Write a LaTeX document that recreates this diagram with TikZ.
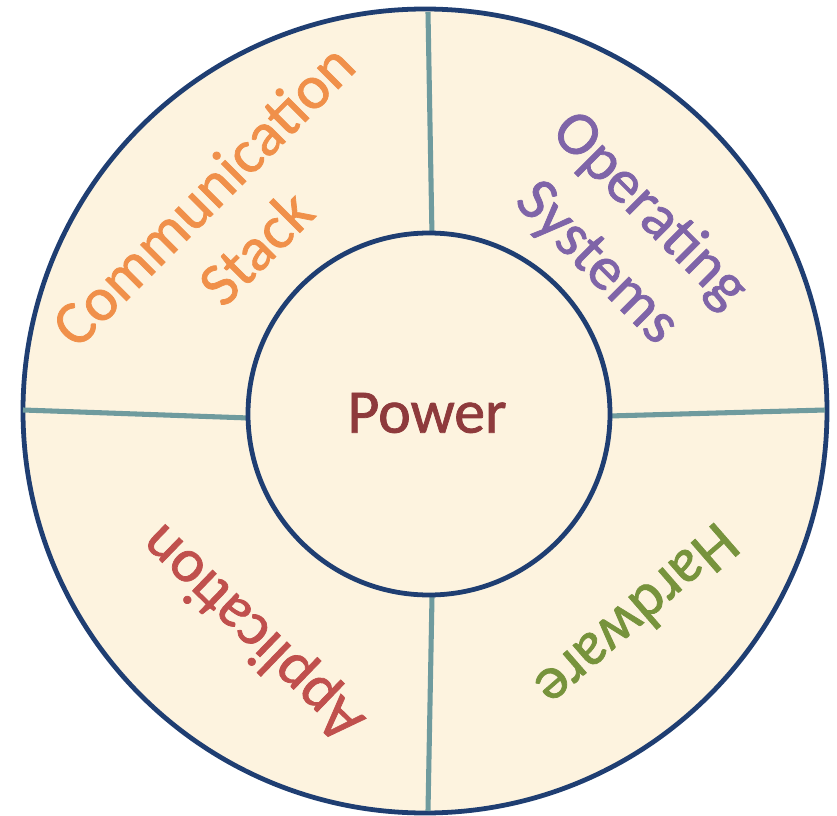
\documentclass[tikz,border=0pt]{standalone}
\usepackage{fontspec}
\setmainfont{Carlito}
\newfontfamily\ringfont[FakeBold=1.2]{Carlito}
\usepackage{xcolor}
\definecolor{ringfill}{HTML}{FDF3DF}
\definecolor{ringline}{HTML}{1F3E72}
\definecolor{splitline}{HTML}{6F9B9E}
\definecolor{commcol}{HTML}{F0904A}
\definecolor{oscol}{HTML}{7F64A8}
\definecolor{powercol}{HTML}{8E3A3C}
\definecolor{appcol}{HTML}{C0504D}
\definecolor{hwcol}{HTML}{77933C}
\tikzset{
	ringlabel/.style={font=\ringfont\fontsize{44}{53}\selectfont, align=center, inner sep=0pt},
	splitter/.style={draw=splitline, line width=3.6pt}
}

\begin{document}
\begin{tikzpicture}
	\useasboundingbox (-10.625,-10.1) rectangle (10.3,10.275);

	\filldraw[fill=ringfill, draw=ringline, line width=3.4pt] (0,0) circle (10.05);

	\coordinate (topout) at (0.075,9.975);
	\coordinate (topin) at (0.175,4.375);
	\coordinate (leftout) at (-10.05,0.025);
	\coordinate (leftin) at (-4.4,-0.175);
	\coordinate (rightin) at (4.6,-0.125);
	\coordinate (rightout) at (10.0,0.025);
	\coordinate (bottomin) at (0.175,-4.65);
	\coordinate (bottomout) at (0.075,-10.0);

	\draw[splitter] (topin) -- (topout);
	\draw[splitter] (leftin) -- (leftout);
	\draw[splitter] (rightin) -- (rightout);
	\draw[splitter] (bottomin) -- (bottomout);

	\filldraw[fill=ringfill, draw=ringline, line width=3.4pt] (0.1,-0.075) circle (4.525);

	\node[ringlabel, text=powercol] (power) at (0.05,-0.05) {Power};
	\node[ringlabel, text=commcol, rotate=45] (comm) at (-4.9,4.75) {Communication\\Stack};
	\node[ringlabel, text=oscol, rotate=-45] (os) at (4.95,4.35) {Operating\\Systems};
	\node[ringlabel, text=appcol, rotate=136] (app) at (-4.3,-5.525) {Application};
	\node[ringlabel, text=hwcol, rotate=-139] (hw) at (5.325,-5.15) {Hardware};
\end{tikzpicture}
\end{document}
